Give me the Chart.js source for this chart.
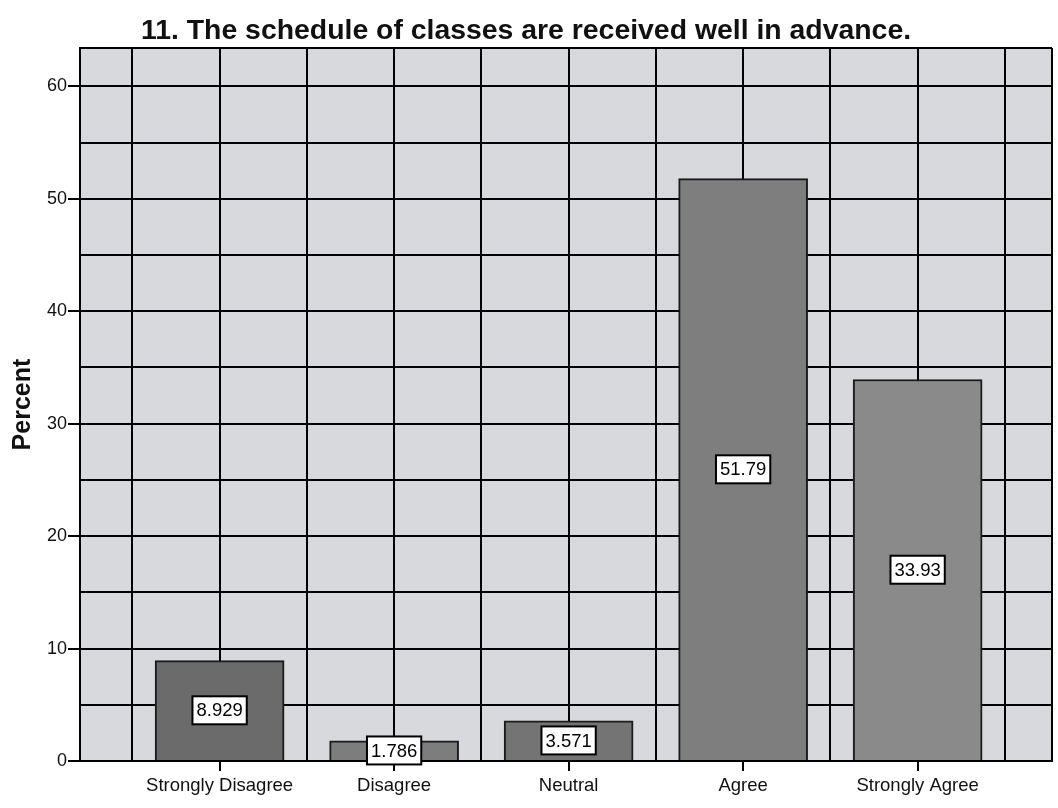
<!DOCTYPE html>
<html>
<head>
<meta charset="utf-8">
<script src="https://cdn.jsdelivr.net/npm/chart.js@4"></script>
<style>
html, body { margin: 0; padding: 0; background: #ffffff; }
#wrap { width: 1058px; height: 808px; }
</style>
</head>
<body>
<div id="wrap"><canvas id="grafica"></canvas></div>
<script>
// datos
const categorias = ['Strongly Disagree', 'Disagree', 'Neutral', 'Agree', 'Strongly Agree'];
const porcentajes = [8.929, 1.786, 3.571, 51.79, 33.93];
const etiquetas = ['8.929', '1.786', '3.571', '51.79', '33.93'];
const ticksY = [0, 5, 10, 15, 20, 25, 30, 35, 40, 45, 50, 55, 60];
const ticksX = [0.5, 1, 1.5, 2, 2.5, 3, 3.5, 4, 4.5, 5, 5.5];
const coloresBarras = ['#6b6b6b', '#7d7d7d', '#747474', '#7e7e7e', '#8a8a8a'];

const X_MIN = 0.2, X_MAX = 5.77, Y_MAX = 63.4;

const ctx = document.getElementById('grafica');

// fondo gris del area del grafico
const fondoArea = {
    id: 'fondoArea',
    beforeDraw(chart) {
        const { ctx, chartArea: a } = chart;
        ctx.save();
        ctx.fillStyle = '#d8d9dc';
        ctx.fillRect(a.left, a.top, a.right - a.left, a.bottom - a.top);
        ctx.restore();
    }
};

// cajitas blancas con el valor en medio de cada barra
const cajasValores = {
    id: 'cajasValores',
    afterDatasetsDraw(chart) {
        const c = chart.ctx;
        const meta = chart.getDatasetMeta(0);
        c.save();
        c.font = '18.5px "Liberation Sans", Arial, sans-serif';
        c.textAlign = 'center';
        c.textBaseline = 'middle';
        meta.data.forEach((bar, i) => {
            const txt = etiquetas[i];
            const cy = (bar.y + bar.base) / 2;
            const w = c.measureText(txt).width + 8;
            const h = 28;
            c.fillStyle = '#ffffff';
            c.fillRect(bar.x - w / 2, cy - h / 2, w, h);
            c.lineWidth = 2;
            c.strokeStyle = '#000000';
            c.strokeRect(bar.x - w / 2, cy - h / 2, w, h);
            c.fillStyle = '#000000';
            c.fillText(txt, bar.x, cy + 1);
        });
        c.restore();
    }
};

const miGrafica = new Chart(ctx, {
    type: 'bar',
    data: {
        datasets: [{
            data: porcentajes.map((v, i) => ({ x: i + 1, y: v })),
            backgroundColor: coloresBarras,
            borderColor: '#1a1a1a',
            borderWidth: 2,
            barThickness: 129
        }]
    },
    options: {
        responsive: true,
        maintainAspectRatio: false,
        animation: false,
        layout: { padding: { left: 0, right: 6, top: 0, bottom: 0 } },
        scales: {
            x: {
                type: 'linear',
                min: X_MIN,
                max: X_MAX,
                offset: false,
                afterBuildTicks: (scale) => {
                    scale.ticks = ticksX.concat([X_MAX]).map(v => ({ value: v }));
                },
                afterFit: (scale) => { scale.height = 47; },
                ticks: {
                    autoSkip: false,
                    maxRotation: 0,
                    padding: 4,
                    color: '#111111',
                    font: { family: '"Liberation Sans", Arial, sans-serif', size: 18.5 },
                    callback: (v) => Number.isInteger(v) ? categorias[v - 1] : ''
                },
                grid: {
                    offset: false,
                    color: '#000000',
                    lineWidth: 2,
                    tickLength: 10,
                    tickColor: (c) => (c.tick && Number.isInteger(c.tick.value)) ? '#000000' : 'rgba(0,0,0,0)'
                },
                border: { color: '#000000', width: 2 }
            },
            y: {
                min: 0,
                max: Y_MAX,
                afterBuildTicks: (scale) => {
                    scale.ticks = ticksY.concat([Y_MAX]).map(v => ({ value: v }));
                },
                afterFit: (scale) => { scale.width = 80; },
                ticks: {
                    padding: 1,
                    color: '#111111',
                    font: { family: '"Liberation Sans", Arial, sans-serif', size: 18 },
                    callback: (v) => (v % 10 === 0) ? v : ''
                },
                grid: {
                    color: '#000000',
                    lineWidth: 2,
                    tickLength: 12,
                    tickColor: (c) => (c.tick && c.tick.value % 10 === 0) ? '#000000' : 'rgba(0,0,0,0)'
                },
                border: { color: '#000000', width: 2 },
                title: {
                    display: true,
                    text: 'Percent',
                    color: '#111111',
                    padding: { top: 8, bottom: 0 },
                    font: { family: '"Liberation Sans", Arial, sans-serif', size: 25, weight: 'bold' }
                }
            }
        },
        plugins: {
            legend: { display: false },
            tooltip: { enabled: false },
            title: {
                display: true,
                text: '11. The schedule of classes are received well in advance.',
                color: '#111111',
                padding: { top: 14, bottom: 0 },
                font: { family: '"Liberation Sans", Arial, sans-serif', size: 28.4, weight: 'bold', lineHeight: 1.2 }
            }
        }
    },
    plugins: [fondoArea, cajasValores]
});
</script>
</body>
</html>
